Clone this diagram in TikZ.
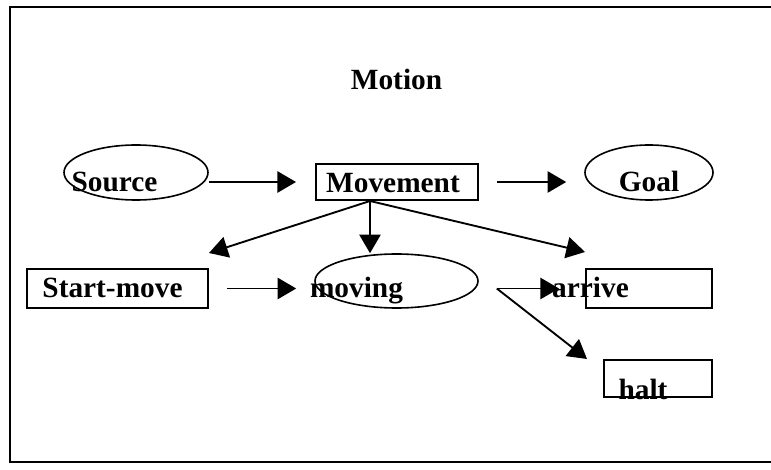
\documentclass[tikz,border=0pt]{standalone}
\usepackage{fontspec}
\setmainfont{Liberation Serif}
\usepackage{tikz}
\usetikzlibrary{arrows.meta,shapes,positioning}
\tikzstyle{framebox} = [line width=1.3pt]
\tikzstyle{event} = [rectangle, inner sep=0pt, draw=black, line width=1.5pt]
\tikzstyle{role} = [ellipse, inner sep=0pt, draw=black, line width=1.2pt]
\tikzstyle{lbl} = [anchor=base, inner sep=0pt, font=\fontsize{22pt}{24pt}\selectfont\bfseries]
\tikzstyle{arrow} = [line width=1.4pt, -{Triangle[length=14pt,width=16pt]}]

\begin{document}
\begin{tikzpicture}[x=0.75pt, y=-0.75pt]
\useasboundingbox (0,0) rectangle (771,470);
% Frame
\draw [framebox] (771,7) -- (10,7) -- (10,462) -- (771,462);
\node (motion) [lbl] at (396.5,90) {Motion};

% Top row
\node (source) [role, minimum width=108pt, minimum height=41.25pt] at (136,172.5) {};
\node (sourcelbl) [lbl] at (114.5,192) {Source};
\node (movement) [event, minimum width=121.5pt, minimum height=27pt] at (397,182) {};
\node (movementlbl) [lbl] at (393,193) {Movement};
\node (goal) [role, minimum width=96pt, minimum height=41.25pt] at (649,172.5) {};
\node (goallbl) [lbl] at (649,192) {Goal};

% Bottom row
\node (startmove) [event, minimum width=135.75pt, minimum height=29.25pt] at (117.5,288.5) {};
\node (startmovelbl) [lbl] at (112.5,298) {Start-move};
\node (moving) [role, minimum width=122.25pt, minimum height=40.5pt] at (396.5,281) {};
\node (movinglbl) [lbl] at (356.5,298) {moving};
\node (arrive) [event, minimum width=94.5pt, minimum height=29.25pt] at (649,288.5) {};
\node (arrivelbl) [lbl] at (590.5,298) {arrive};
\node (halt) [event, minimum width=81pt, minimum height=27.75pt] at (658,378.5) {};
\node (haltlbl) [lbl] at (643,399) {halt};

% Arrows
\coordinate (fork) at ([xshift=-20.25pt]movement.south);
\coordinate (split) at ([xshift=13.5pt]moving.east |- startmove.east);
\draw [arrow, shorten >=14.25pt] (source.east |- movement.west) -- (movement.west);
\draw [arrow, shorten <=13.5pt, shorten >=13.5pt] (movement.east) -- (movement.east -| goal.west);
\draw [arrow] (fork) -- ([yshift=11.25pt]startmove.north east);
\draw [arrow] (fork) -- (fork |- moving.north);
\draw [arrow] (fork) -- ([yshift=12pt]arrive.north west);
\draw [arrow, shorten <=13.5pt, shorten >=13.5pt] (startmove.east) -- (startmove.east -| moving.west);
\draw [arrow] (split) -- ([xshift=-19.5pt]arrive.west);
\draw [arrow] (split) -- ([xshift=-12pt]halt.north west);
\end{tikzpicture}
\end{document}
